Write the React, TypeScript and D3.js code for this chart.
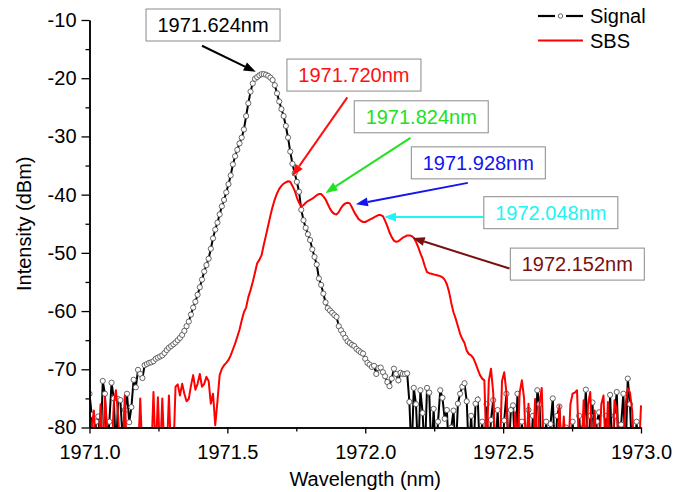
import React, { useRef, useEffect } from 'react';
import * as d3 from 'd3';

// OSA sampling: start wavelength and step (nm)
const START_NM = 1971.0;
const STEP_NM = 0.008;

// values below -80 dBm fall under the axis and get clipped
const signalDbm = [
  -74.2, -77.8, -84, -79, -78.1, -84, -72.0, -74.2, -84, -79,
  -72.3, -75, -84, -75.1, -75.3, -82, -77, -74.2, -79.1, -76.5,
  -71.8, -73.1, -70.1, -70.8, -71.5, -69.3, -69.1, -68.9, -68.8, -68.6,
  -68.2, -68.0, -67.8, -67.6, -67.2, -66.7, -66.3, -66.0, -65.7, -65.4,
  -65.0, -64.6, -64.1, -63.4, -62.6, -61.8, -60.6, -59.4, -58.4, -57.2,
  -55.9, -54.6, -53.2, -52.1, -51.0, -49.3, -47.5, -46.0, -44.8, -43.4,
  -42.0, -40.9, -39.6, -38.2, -36.7, -34.8, -33.4, -32.3, -31.2, -30.2,
  -28.8, -26.5, -24.3, -22.3, -20.9, -20.1, -19.8, -19.5, -19.3, -19.3,
  -19.4, -19.6, -19.9, -20.3, -21.2, -22.6, -24.0, -25.3, -26.5, -28.2,
  -30.2, -32.6, -34.7, -36.3, -37.8, -39.5, -42.6, -44.4, -45.7, -46.8,
  -47.8, -49.4, -50.7, -52.0, -54.4, -55.5, -57.0, -58.5, -59.5, -59.9,
  -60.3, -60.7, -61.0, -62.6, -63.3, -63.9, -64.6, -65.2, -65.5, -65.8,
  -66.0, -66.5, -66.8, -67.1, -67.3, -68.2, -68.9, -69.2, -69.6, -69.4,
  -70.8, -69.8, -69.7, -70.5, -71.2, -72.2, -72.9, -71.6, -69.9, -70.8,
  -71.9, -70.6, -70.8, -70.8, -70.7, -75.6, -85, -73.2, -76, -85,
  -73.6, -77.5, -85, -73.2, -74, -85, -76.8, -85, -79, -73.6,
  -74.9, -78.5, -77, -85, -80, -77.1, -85, -75.9, -74.2, -73,
  -72.4, -75.5, -85, -78, -85, -75.9, -75.2, -85, -79, -85,
  -76, -85, -78.7, -75.3, -85, -77, -85, -85, -78.8, -74.2,
  -85, -77, -76.2, -85, -74.2, -85, -79, -85, -85, -77,
  -85, -78, -85, -73.6, -76, -85, -85, -79, -85, -79.4,
  -75, -85, -78, -76.4, -85, -85, -80, -85, -85, -79,
  -85, -85, -78, -85, -80, -73.5, -85, -78, -75.7, -85,
  -79, -77.4, -85, -85, -78, -85, -74.4, -85, -78, -73.9,
  -85, -79.5, -74.2, -85, -71.6, -76, -85, -85, -79, -85,
  -85,
];

const sbsDbm = [
  -85, -80, -77.1, -85, -85, -76, -85, -74.8, -80, -85,
  -85, -76, -73.6, -78, -85, -85, -74.5, -85, -85, -85,
  -85, -85, -85, -75, -85, -85, -85, -85, -85, -73.9,
  -85, -74.8, -85, -75, -85, -85, -74.5, -85, -85, -73,
  -72.6, -74.5, -72.5, -74.2, -75.5, -75.1, -72.8, -71.0, -73.5, -72.5,
  -70.8, -73.0, -72.5, -71.3, -72.0, -75.9, -74.2, -79.6, -75.5, -71.0,
  -69.9, -69.3, -68.9, -68.4, -67.6, -66.6, -65.6, -64.4, -63.2, -61.6,
  -60.2, -59.4, -57.6, -56.4, -55.0, -53.4, -51.8, -51.2, -50.4, -48.6,
  -47.0, -45.3, -43.6, -42.1, -40.8, -39.8, -39.0, -38.5, -38.1, -37.9,
  -37.7, -37.8, -38.5, -39.3, -40.5, -41.4, -42.0, -41.8, -41.4, -41.1,
  -40.9, -40.7, -40.4, -40.1, -39.9, -39.9, -40.3, -40.8, -41.6, -42.4,
  -43.0, -43.3, -43.4, -43.0, -42.3, -41.8, -41.5, -41.4, -41.5, -42.2,
  -43.0, -43.6, -44.2, -44.5, -44.7, -44.7, -44.5, -44.3, -44.1, -43.9,
  -43.7, -43.5, -43.5, -43.7, -44.5, -45.4, -46.5, -47.3, -47.9, -48.1,
  -48.0, -47.7, -47.4, -47.2, -47.0, -47.0, -47.1, -47.4, -48.1, -49.0,
  -50.1, -51.0, -52.3, -53.3, -53.5, -53.6, -53.7, -53.8, -53.9, -54.0,
  -54.2, -54.6, -55.4, -56.7, -58.6, -60.2, -61.3, -62.6, -63.9, -64.8,
  -65.5, -66.8, -67.4, -67.6, -68.1, -69.0, -70.0, -71.0, -71.6, -71.9,
  -85, -72, -69.9, -74, -85, -85, -85, -72, -70.5, -74,
  -85, -85, -85, -77.4, -85, -74, -71.9, -75, -85, -75.9,
  -85, -85, -75.1, -85, -76, -73.2, -85, -85, -85, -85,
  -85, -85, -85, -76.2, -85, -78.1, -85, -85, -76, -74.2,
  -74, -73.6, -85, -85, -75.3, -85, -76, -73.9, -85, -77.1,
  -85, -85, -76, -74.5, -85, -75.6, -85, -85, -75.3, -77,
  -85, -85, -85, -76, -73.3, -74, -77.1, -85, -85, -85,
  -76.2,
];

const xTicks = [1971.0, 1971.5, 1972.0, 1972.5, 1973.0];
const xMinorTicks = [1971.25, 1971.75, 1972.25, 1972.75];
const yTicks = [-10, -20, -30, -40, -50, -60, -70, -80];
const yMinorTicks = [-15, -25, -35, -45, -55, -65, -75];

// peak annotations: label, colour, box centre / arrow tail / arrow tip in (nm, dBm)
const peakLabels = ['1971.624nm', '1971.720nm', '1971.824nm', '1971.928nm', '1972.048nm', '1972.152nm'];
const peakColors = ['#000000', '#ff1010', '#22e022', '#1414ee', '#20f4f4', '#7a1010'];
const boxCenters = [
  [1971.448, -10.86], [1971.959, -19.46], [1972.203, -26.63],
  [1972.41, -34.54], [1972.673, -43.1], [1972.769, -51.93],
];
const arrowTails = [
  [1971.408, -14.42], [1971.935, -23.29], [1972.164, -30.24],
  [1972.372, -37.98], [1972.428, -43.83], [1972.523, -52.7],
];
const arrowTips = [
  [1971.603, -18.89], [1971.735, -36.83], [1971.856, -39.7],
  [1971.966, -41.64], [1972.068, -43.83], [1972.172, -47.44],
];

const W = 674;
const H = 492;
const FONT = "'Liberation Sans', Arial, sans-serif";

const SpectrumChart = () => {
  const svgRef = useRef(null);

  useEffect(() => {
    const svg = d3.select(svgRef.current);
    svg.selectAll('*').remove();

    const x = d3.scaleLinear().domain([1971, 1973]).range([89.5, 641]);
    const y = d3.scaleLinear().domain([-80, -10]).range([427.5, 20]);

    const wl = d3.range(signalDbm.length).map((i) => START_NM + i * STEP_NM);
    const signal = wl.map((w, i) => [w, signalDbm[i]]);
    const sbs = wl.map((w, i) => [w, sbsDbm[i]]);

    svg.append('defs').append('clipPath').attr('id', 'plot-clip')
      .append('rect')
      .attr('x', x(1971)).attr('y', 0)
      .attr('width', x(1973) - x(1971) + 1).attr('height', y(-80));

    const plot = svg.append('g').attr('clip-path', 'url(#plot-clip)');
    const line = d3.line().x((d) => x(d[0])).y((d) => y(d[1]));

    // signal: black line with open circles
    plot.append('path').datum(signal)
      .attr('d', line).attr('fill', 'none')
      .attr('stroke', '#000').attr('stroke-width', 2);
    plot.selectAll('circle.sig').data(signal).enter()
      .append('circle').attr('class', 'sig')
      .attr('cx', (d) => x(d[0])).attr('cy', (d) => y(d[1]))
      .attr('r', 2.6)
      .attr('fill', '#fff').attr('stroke', '#555').attr('stroke-width', 0.9);

    // SBS
    plot.append('path').datum(sbs)
      .attr('d', line).attr('fill', 'none')
      .attr('stroke', '#ff0000').attr('stroke-width', 2)
      .attr('stroke-linejoin', 'round');

    // axes
    const yAxis = svg.append('g').attr('transform', `translate(${x(1971)},0)`)
      .call(d3.axisLeft(y).tickValues(yTicks).tickSize(8).tickSizeOuter(0)
        .tickPadding(5).tickFormat((d) => `${d}`));
    svg.append('g').attr('transform', `translate(${x(1971)},0)`)
      .call(d3.axisLeft(y).tickValues(yMinorTicks).tickSize(4).tickSizeOuter(0).tickFormat(() => ''));
    const xAxis = svg.append('g').attr('transform', `translate(0,${y(-80)})`)
      .call(d3.axisBottom(x).tickValues(xTicks).tickSize(6).tickSizeOuter(0)
        .tickPadding(11).tickFormat(d3.format('.1f')));
    svg.append('g').attr('transform', `translate(0,${y(-80)})`)
      .call(d3.axisBottom(x).tickValues(xMinorTicks).tickSize(4).tickSizeOuter(0).tickFormat(() => ''));

    svg.selectAll('.domain').attr('stroke', '#000').attr('stroke-width', 1.5);
    svg.selectAll('.tick line').attr('stroke', '#000').attr('stroke-width', 1.3);
    [xAxis, yAxis].forEach((a) => a.selectAll('text')
      .attr('font-family', FONT).attr('font-size', 20).attr('fill', '#000'));

    svg.append('text')
      .attr('x', (x(1971) + x(1973)) / 2).attr('y', 486)
      .attr('text-anchor', 'middle')
      .attr('font-family', FONT).attr('font-size', 20)
      .text('Wavelength (nm)');
    svg.append('text')
      .attr('transform', `translate(31,${(y(-10) + y(-80)) / 2}) rotate(-90)`)
      .attr('text-anchor', 'middle')
      .attr('font-family', FONT).attr('font-size', 20)
      .text('Intensity (dBm)');

    // legend
    const leg = svg.append('g').attr('font-family', FONT).attr('font-size', 20);
    leg.append('line').attr('x1', 538).attr('x2', 555).attr('y1', 16).attr('y2', 16)
      .attr('stroke', '#000').attr('stroke-width', 2.2);
    leg.append('line').attr('x1', 566).attr('x2', 583).attr('y1', 16).attr('y2', 16)
      .attr('stroke', '#000').attr('stroke-width', 2.2);
    leg.append('circle').attr('cx', 560.5).attr('cy', 16).attr('r', 2.2)
      .attr('fill', '#fff').attr('stroke', '#555').attr('stroke-width', 0.9);
    leg.append('text').attr('x', 590).attr('y', 16).attr('dy', '0.35em').text('Signal');
    leg.append('line').attr('x1', 538).attr('x2', 583).attr('y1', 40.5).attr('y2', 40.5)
      .attr('stroke', '#ff0000').attr('stroke-width', 2.2);
    leg.append('text').attr('x', 590).attr('y', 40.5).attr('dy', '0.35em').text('SBS');

    // annotations
    const ann = svg.append('g');
    peakLabels.forEach((label, i) => {
      const color = peakColors[i];
      const cx = x(boxCenters[i][0]);
      const cy = y(boxCenters[i][1]);
      ann.append('rect')
        .attr('x', cx - 67).attr('y', cy - 16)
        .attr('width', 134).attr('height', 32)
        .attr('fill', '#fff').attr('stroke', '#8a8a8a').attr('stroke-width', 1);
      ann.append('text')
        .attr('x', cx).attr('y', cy).attr('dy', '0.36em')
        .attr('text-anchor', 'middle')
        .attr('font-family', FONT).attr('font-size', 20)
        .attr('fill', color)
        .text(label);

      const x1 = x(arrowTails[i][0]);
      const y1 = y(arrowTails[i][1]);
      const x2 = x(arrowTips[i][0]);
      const y2 = y(arrowTips[i][1]);
      const len = Math.hypot(x2 - x1, y2 - y1);
      const ux = (x2 - x1) / len;
      const uy = (y2 - y1) / len;
      const hl = 12;
      const hw = 4.5;
      const bx = x2 - ux * hl;
      const by = y2 - uy * hl;
      ann.append('line')
        .attr('x1', x1).attr('y1', y1).attr('x2', bx).attr('y2', by)
        .attr('stroke', color).attr('stroke-width', 2);
      ann.append('path')
        .attr('d', `M${x2},${y2}L${bx - uy * hw},${by + ux * hw}L${bx + uy * hw},${by - ux * hw}Z`)
        .attr('fill', color);
    });
  }, []);

  return (
    <svg ref={svgRef} width={W} height={H}
      style={{ position: 'absolute', left: 0, top: 0, background: '#fff' }} />
  );
};

export default function App() {
  return <SpectrumChart />;
}
